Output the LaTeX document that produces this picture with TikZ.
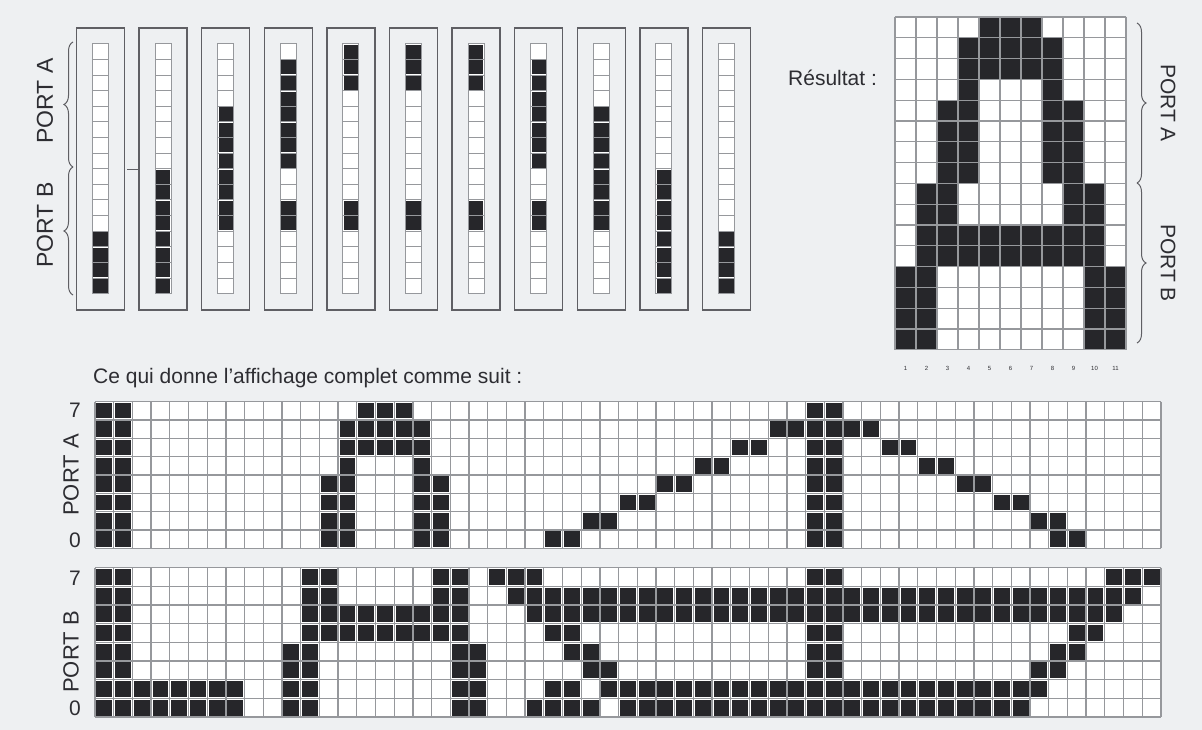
\documentclass[tikz,border=0pt]{standalone}
\usepackage{fontspec}
\setmainfont{Liberation Sans}
\usetikzlibrary{decorations.pathreplacing}
\definecolor{bg}{RGB}{238,240,242}
\definecolor{ink}{RGB}{38,38,42}
\definecolor{gridc}{RGB}{150,152,156}
\definecolor{boxc}{RGB}{95,95,100}
\definecolor{txt}{RGB}{45,45,50}
\tikzset{
  lbl/.style={text=txt, inner sep=0pt, font=\fontsize{21}{23}\selectfont},
  biglbl/.style={text=txt, inner sep=0pt, font=\fontsize{23}{25}\selectfont},
  tinylbl/.style={text=txt, inner sep=0pt, font=\fontsize{6}{7}\selectfont},
  gl/.style={draw=gridc, line width=1.3pt},
  colbox/.style={draw=boxc, line width=1.5pt},
  bitcell/.style={draw=gridc, line width=1pt, fill=white},
  bitblack/.style={fill=ink},
  bracestyle/.style={draw=boxc, line width=1pt, decorate, decoration={brace, amplitude=9pt}},
}
\begin{document}
\begin{tikzpicture}[x=1pt,y=-1pt]
\fill[bg] (0,0) rectangle (1202,730);
\useasboundingbox (0,0) rectangle (1202,730);

% ---------- top-left: 11 column boxes ----------
\foreach \k/\bits in {0/{13,14,15,16}, 1/{9,...,16}, 2/{5,...,12}, 3/{2,...,8,11,12},
                      4/{1,2,3,11,12}, 5/{1,2,3,11,12}, 6/{1,2,3,11,12}, 7/{2,...,8,11,12},
                      8/{5,...,12}, 9/{9,...,16}, 10/{13,14,15,16}} {
  \pgfmathsetmacro\bx{76.5+62.6*\k}
  \draw[colbox] (\bx,28) rectangle (\bx+48,310);
  \foreach \i in {1,...,16}
    \draw[bitcell] (\bx+16,44+15.6*\i-15.6) rectangle (\bx+32,44+15.6*\i);
  \foreach \i in \bits
    \fill[bitblack] (\bx+16.8,44+15.6*\i-14.8) rectangle (\bx+31.2,44+15.6*\i-0.8);
}
\draw[bracestyle] (73,167) -- (73,42);
\draw[bracestyle] (73,295) -- (73,167);
\node[biglbl, rotate=90] (portA1) at (45,101) {PORT A};
\node[biglbl, rotate=90] (portB1) at (45,225) {PORT B};
\draw[boxc, line width=1pt] (127,170) -- (139,170);

% ---------- top-right: result grid ----------
\fill[white] (895,17) rectangle (1126,349.8);
\foreach \c/\bits in {1/{13,14,15,16}, 2/{9,...,16}, 3/{5,...,12}, 4/{2,...,8,11,12},
                      5/{1,2,3,11,12}, 6/{1,2,3,11,12}, 7/{1,2,3,11,12}, 8/{2,...,8,11,12},
                      9/{5,...,12}, 10/{9,...,16}, 11/{13,14,15,16}} {
  \foreach \r in \bits
    \fill[bitblack] (895+21*\c-21,17+20.8*\r-20.8) rectangle (895+21*\c,17+20.8*\r);
  \node[tinylbl] (num\c) at (895+21*\c-10.5,368) {\c};
}
\foreach \i in {0,...,11} \draw[gl] (895+21*\i,17) -- (895+21*\i,349.8);
\foreach \j in {0,...,16} \draw[gl] (895,17+20.8*\j) -- (1126,17+20.8*\j);
\node[lbl, anchor=west] (res) at (788,78) {Résultat :};
\draw[bracestyle] (1137,23) -- (1137,183);
\draw[bracestyle] (1137,183) -- (1137,343);
\node[lbl, rotate=-90] (portA2) at (1168,103) {PORT A};
\node[lbl, rotate=-90] (portB2) at (1168,263) {PORT B};

% ---------- bottom: full display ----------
\node[lbl, anchor=west] (ce) at (93,378) {Ce qui donne l'affichage complet comme suit :};

% PORT A
\fill[white] (95,401.5) rectangle (1160.9,548.3);
\foreach \i in {0,...,57} \draw[gl] (95+18.7*\i,401.5) -- (95+18.7*\i,548.3);
\foreach \j in {0,...,8} \draw[gl] (95,401.5+18.35*\j) -- (1160.9,401.5+18.35*\j);
\foreach \r/\cols in {
  7/{0,1,14,15,16,38,39},
  6/{0,1,13,14,15,16,17,36,37,38,39,40,41},
  5/{0,1,13,14,15,16,17,34,35,38,39,42,43},
  4/{0,1,13,17,32,33,38,39,44,45},
  3/{0,1,12,13,17,18,30,31,38,39,46,47},
  2/{0,1,12,13,17,18,28,29,38,39,48,49},
  1/{0,1,12,13,17,18,26,27,38,39,50,51},
  0/{0,1,12,13,17,18,24,25,38,39,51,52}} {
  \foreach \c in \cols
    \fill[bitblack] (95+18.7*\c+1.4,401.5+18.35*7-18.35*\r+1.4) rectangle (95+18.7*\c+17.3,401.5+18.35*8-18.35*\r-1.4);
}
\node[lbl] (a7) at (75,410) {7};
\node[lbl] (a0) at (75,540) {0};
\node[lbl, font=\fontsize{22}{24}\selectfont, rotate=90] (portA3) at (71,475) {PORT A};

% PORT B
\fill[white] (95,567.5) rectangle (1160.9,717.1);
\foreach \i in {0,...,57} \draw[gl] (95+18.7*\i,567.5) -- (95+18.7*\i,717.1);
\foreach \j in {0,...,8} \draw[gl] (95,567.5+18.7*\j) -- (1160.9,567.5+18.7*\j);
\foreach \r/\cols in {
  7/{0,1,11,12,18,19,21,22,23,38,39,54,55,56},
  6/{0,1,11,12,18,19,22,23,...,55},
  5/{0,1,11,12,...,19,23,24,...,54},
  4/{0,1,11,12,...,19,24,25,38,39,52,53},
  3/{0,1,10,11,19,20,25,26,38,39,51,52},
  2/{0,1,10,11,19,20,26,27,38,39,50,51},
  1/{0,1,...,7,10,11,19,20,24,25,27,28,...,50},
  0/{0,1,...,7,10,11,19,20,23,24,25,26,28,29,...,49}} {
  \foreach \c in \cols
    \fill[bitblack] (95+18.7*\c+1.4,567.5+18.7*7-18.7*\r+1.4) rectangle (95+18.7*\c+17.3,567.5+18.7*8-18.7*\r-1.4);
}
\node[lbl] (b7) at (75,578) {7};
\node[lbl] (b0) at (75,708) {0};
\node[lbl, font=\fontsize{22}{24}\selectfont, rotate=90] (portB3) at (71,652) {PORT B};
\end{tikzpicture}
\end{document}
